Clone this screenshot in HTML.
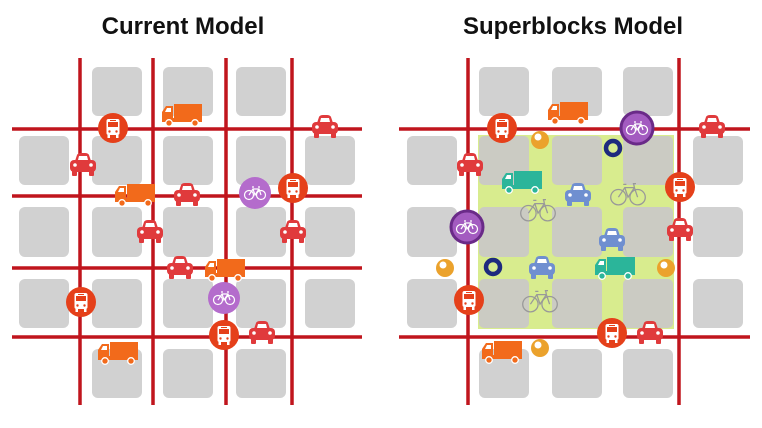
<!DOCTYPE html>
<html><head><meta charset="utf-8"><style>
html,body{margin:0;padding:0;background:#fff;width:762px;height:428px;overflow:hidden}
svg{display:block}
</style></head><body>
<svg width="762" height="428" viewBox="0 0 762 428" xmlns="http://www.w3.org/2000/svg">
<defs>
<g id="car">
<path d="M-8,-4 L-6,-10 Q-5,-12 -2,-12 L2,-12 Q5,-12 6,-10 L8,-4 Z" fill="currentColor"/>
<path d="M-5,-5 L-4,-9 L4,-9 L5,-5 Z" fill="#fff"/>
<rect x="-13" y="-5" width="26" height="12" rx="4" fill="currentColor"/>
<rect x="-11" y="5" width="5" height="6" rx="1" fill="currentColor"/>
<rect x="6" y="5" width="5" height="6" rx="1" fill="currentColor"/>
<circle cx="-8" cy="0" r="1.8" fill="#fff"/><circle cx="8" cy="0" r="1.8" fill="#fff"/>
</g>
<g id="truck">
<rect x="-8" y="-11" width="28" height="15" fill="currentColor"/>
<path d="M-20,4 L-20,-3 L-16,-9 L-9,-9 L-9,4 Z" fill="currentColor"/>
<path d="M-17,-3 L-15,-7 L-11,-7 L-11,-3 Z" fill="#fff"/>
<rect x="-20" y="3" width="40" height="4" fill="currentColor"/>
<circle cx="-13" cy="8" r="3.3" fill="currentColor" stroke="#fff" stroke-width="1.3"/>
<circle cx="13" cy="8" r="3.3" fill="currentColor" stroke="#fff" stroke-width="1.3"/>
</g>
<g id="bus">
<circle r="15" fill="#e5401a"/>
<rect x="-6.5" y="-9" width="13" height="16" rx="2" fill="#fff"/>
<rect x="-5" y="-6" width="10" height="5" fill="#e5401a"/>
<rect x="-3" y="-8" width="6" height="1" fill="#e5401a"/>
<circle cx="-3.5" cy="3.5" r="1.2" fill="#e5401a"/><circle cx="3.5" cy="3.5" r="1.2" fill="#e5401a"/>
<rect x="-5.5" y="7" width="2.5" height="3" fill="#fff"/><rect x="3" y="7" width="2.5" height="3" fill="#fff"/>
</g>
<g id="bk">
<circle cx="-6" cy="2" r="4.5" fill="none" stroke="currentColor" stroke-width="1.2"/>
<circle cx="6" cy="2" r="4.5" fill="none" stroke="currentColor" stroke-width="1.2"/>
<path d="M-6,2 L-2,-4 L4,-4 L6,2 M-2,-4 L0,2 L4,-4 M-3,-6 L-1,-6 M3,-6 L5,-6" fill="none" stroke="currentColor" stroke-width="1.2"/>
</g>
<g id="gbk">
<circle cx="-6" cy="2" r="4.8" fill="none" stroke="#999" stroke-width="0.8"/>
<circle cx="6" cy="2" r="4.8" fill="none" stroke="#999" stroke-width="0.8"/>
<path d="M-6,2 L-2,-4 L4,-4 L6,2 M-2,-4 L0,2 L4,-4 M-3,-6 L-1,-6 M3,-6.5 L5,-6.5 M4,-4 L3.5,-6.5" fill="none" stroke="#999" stroke-width="0.8"/>
</g>
<g id="bike">
<circle r="16" fill="#b46ccc"/>
<use href="#bk" color="#fff"/>
</g>
<g id="bike2">
<circle r="16" fill="#a35bc0" stroke="#6a2a88" stroke-width="3"/>
<use href="#bk" color="#fff"/>
</g>
<g id="ball"><circle r="9" fill="#eba22c"/><circle cx="-2" cy="-3" r="3.5" fill="#fff"/></g>
<g id="ring"><circle r="7" fill="none" stroke="#1e2a7e" stroke-width="4.5"/></g>
</defs>

<text x="183" y="34" text-anchor="middle" font-family="Liberation Sans, sans-serif" font-weight="bold" font-size="24" fill="#111">Current Model</text>
<text x="573" y="34" text-anchor="middle" font-family="Liberation Sans, sans-serif" font-weight="bold" font-size="24" fill="#111">Superblocks Model</text>

<!-- LEFT blocks -->
<g fill="#d1d1d1">
<rect x="92" y="67" width="50" height="49" rx="6"/><rect x="163" y="67" width="50" height="49" rx="6"/><rect x="236" y="67" width="50" height="49" rx="6"/>
<rect x="19" y="136" width="50" height="49" rx="6"/><rect x="92" y="136" width="50" height="49" rx="6"/><rect x="163" y="136" width="50" height="49" rx="6"/><rect x="236" y="136" width="50" height="49" rx="6"/><rect x="305" y="136" width="50" height="49" rx="6"/>
<rect x="19" y="207" width="50" height="50" rx="6"/><rect x="92" y="207" width="50" height="50" rx="6"/><rect x="163" y="207" width="50" height="50" rx="6"/><rect x="236" y="207" width="50" height="50" rx="6"/><rect x="305" y="207" width="50" height="50" rx="6"/>
<rect x="19" y="279" width="50" height="49" rx="6"/><rect x="92" y="279" width="50" height="49" rx="6"/><rect x="163" y="279" width="50" height="49" rx="6"/><rect x="236" y="279" width="50" height="49" rx="6"/><rect x="305" y="279" width="50" height="49" rx="6"/>
<rect x="92" y="349" width="50" height="49" rx="6"/><rect x="163" y="349" width="50" height="49" rx="6"/><rect x="236" y="349" width="50" height="49" rx="6"/>
</g>
<g stroke="#c0151d" stroke-width="3.5">
<line x1="80" y1="58" x2="80" y2="405"/><line x1="153" y1="58" x2="153" y2="405"/><line x1="226" y1="58" x2="226" y2="405"/><line x1="292" y1="58" x2="292" y2="405"/>
<line x1="12" y1="129" x2="362" y2="129"/><line x1="12" y1="196" x2="362" y2="196"/><line x1="12" y1="268" x2="362" y2="268"/><line x1="12" y1="337" x2="362" y2="337"/>
</g>
<g color="#f26a1b">
<use href="#truck" x="182" y="115"/><use href="#truck" x="135" y="195"/><use href="#truck" x="225" y="270"/><use href="#truck" x="118" y="353"/>
</g>
<g color="#e03a3c">
<use href="#car" x="325" y="127"/><use href="#car" x="83" y="165"/><use href="#car" x="187" y="195"/><use href="#car" x="150" y="232"/><use href="#car" x="293" y="232"/><use href="#car" x="180" y="268"/><use href="#car" x="262" y="333"/>
</g>
<use href="#bus" x="113" y="128"/><use href="#bus" x="293" y="188"/><use href="#bus" x="81" y="302"/><use href="#bus" x="224" y="335"/>
<use href="#bike" x="255" y="193"/><use href="#bike" x="224" y="298"/>

<!-- RIGHT -->
<rect x="478" y="135" width="196" height="194" fill="#d8ec8e"/>
<g fill="#d1d1d1">
<rect x="479" y="67" width="50" height="49" rx="6"/><rect x="552" y="67" width="50" height="49" rx="6"/><rect x="623" y="67" width="50" height="49" rx="6"/>
<rect x="407" y="136" width="50" height="49" rx="6"/><rect x="693" y="136" width="50" height="49" rx="6"/>
<rect x="407" y="207" width="50" height="50" rx="6"/><rect x="693" y="207" width="50" height="50" rx="6"/>
<rect x="407" y="279" width="50" height="49" rx="6"/><rect x="693" y="279" width="50" height="49" rx="6"/>
<rect x="479" y="349" width="50" height="49" rx="6"/><rect x="552" y="349" width="50" height="49" rx="6"/><rect x="623" y="349" width="50" height="49" rx="6"/>
</g>
<g fill="#cbcbc3">
<rect x="479" y="136" width="50" height="49" rx="5"/><rect x="552" y="136" width="50" height="49" rx="5"/><rect x="623" y="136" width="50" height="49" rx="5"/>
<rect x="479" y="207" width="50" height="50" rx="5"/><rect x="552" y="207" width="50" height="50" rx="5"/><rect x="623" y="207" width="50" height="50" rx="5"/>
<rect x="479" y="279" width="50" height="49" rx="5"/><rect x="552" y="279" width="50" height="49" rx="5"/><rect x="623" y="279" width="50" height="49" rx="5"/>
</g>
<g stroke="#c0151d" stroke-width="3.5">
<line x1="468" y1="58" x2="468" y2="405"/><line x1="679" y1="58" x2="679" y2="405"/>
<line x1="399" y1="129" x2="750" y2="129"/><line x1="399" y1="337" x2="750" y2="337"/>
</g>
<g color="#f26a1b"><use href="#truck" x="568" y="113"/><use href="#truck" x="502" y="352"/></g>
<g color="#2bb59a"><use href="#truck" x="522" y="182"/><use href="#truck" x="615" y="268"/></g>
<g color="#e03a3c"><use href="#car" x="712" y="127"/><use href="#car" x="470" y="165"/><use href="#car" x="680" y="230"/><use href="#car" x="650" y="333"/></g>
<g color="#6f8fd0"><use href="#car" x="578" y="195"/><use href="#car" x="612" y="240"/><use href="#car" x="542" y="268"/></g>
<g transform="translate(628,194) scale(1.6)"><use href="#gbk"/></g>
<g transform="translate(538,210) scale(1.6)"><use href="#gbk"/></g>
<g transform="translate(540,301) scale(1.6)"><use href="#gbk"/></g>
<use href="#bus" x="502" y="128"/><use href="#bus" x="680" y="187"/><use href="#bus" x="469" y="300"/><use href="#bus" x="612" y="333"/>
<use href="#bike2" x="637" y="128"/><use href="#bike2" x="467" y="227"/>
<use href="#ball" x="540" y="140"/><use href="#ball" x="445" y="268"/><use href="#ball" x="666" y="268"/><use href="#ball" x="540" y="348"/>
<use href="#ring" x="613" y="148"/><use href="#ring" x="493" y="267"/>
</svg>
</body></html>
